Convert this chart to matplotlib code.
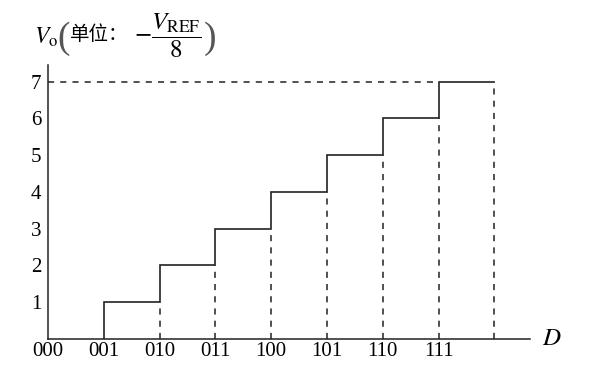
import matplotlib
matplotlib.use('Agg')
import matplotlib.pyplot as plt

# codes on the x axis and the output level for each
codes = ['000', '001', '010', '011', '100', '101', '110', '111']
levels = [0, 1, 2, 3, 4, 5, 6, 7]
y_ticks = [1, 2, 3, 4, 5, 6, 7]

plt.rcParams['font.family'] = ['Liberation Serif', 'DejaVu Serif']
plt.rcParams['mathtext.fontset'] = 'stix'

fig = plt.figure(figsize=(6.11, 3.77), dpi=100)
ax = fig.add_axes([48 / 611, 38 / 377, 482 / 611, 274 / 377])

n = len(codes)
xs = list(range(n))

# staircase: solid steps from code 001 upward
sx, sy = [], []
for i in range(1, n):
    sx += [i, i]
    sy += [levels[i - 1], levels[i]]
    sx.append(i + 1)
    sy.append(levels[i])
ax.plot(sx, sy, color='#222222', lw=1.2, solid_joinstyle='miter')

# dashed drop lines under each step
for i in range(2, n + 1):
    ax.plot([i, i], [0, levels[i - 1]], color='#222222', lw=1.1,
            ls=(0, (4, 4)))
# dashed full-scale line
ax.plot([0, n - 1], [levels[-1], levels[-1]], color='#222222', lw=1.1,
        ls=(0, (4, 4)))

ax.set_xlim(0, 8.64)
ax.set_ylim(0, 7.45)
ax.set_xticks(xs)
ax.set_xticklabels(codes, fontsize=15)
ax.set_yticks(y_ticks)
ax.set_yticklabels([str(v) for v in y_ticks], fontsize=15)
ax.tick_params(length=0, pad=2)
ax.tick_params(axis='y', pad=5)
ax.spines['top'].set_visible(False)
ax.spines['right'].set_visible(False)
for s in ['left', 'bottom']:
    ax.spines[s].set_linewidth(1.1)
    ax.spines[s].set_color('#222222')

ax.text(8.85, 0, r'$D$', fontsize=18, va='center', ha='left')

# y-axis title: V_o (单位：-V_REF/8), built from pieces
def fx(px):
    return px / 611

def fy(px):
    return 1 - px / 377

fig.text(fx(34), fy(37), r'$V_{\mathrm{o}}$', fontsize=17, va='center')
fig.text(fx(57), fy(39), '(', fontsize=27, va='center', color='#555555',
         fontfamily='Liberation Serif')
fig.text(fx(70), fy(35), '单位：', fontsize=14, va='center',
         fontfamily=['Noto Sans CJK SC', 'DejaVu Sans'])
fig.text(fx(134), fy(36), r'$-\dfrac{V_{\mathrm{REF}}}{8}$',
         fontsize=18, va='center')
fig.text(fx(204), fy(39), ')', fontsize=27, va='center', color='#555555',
         fontfamily='Liberation Serif')

fig.savefig('out.png', dpi=100)
